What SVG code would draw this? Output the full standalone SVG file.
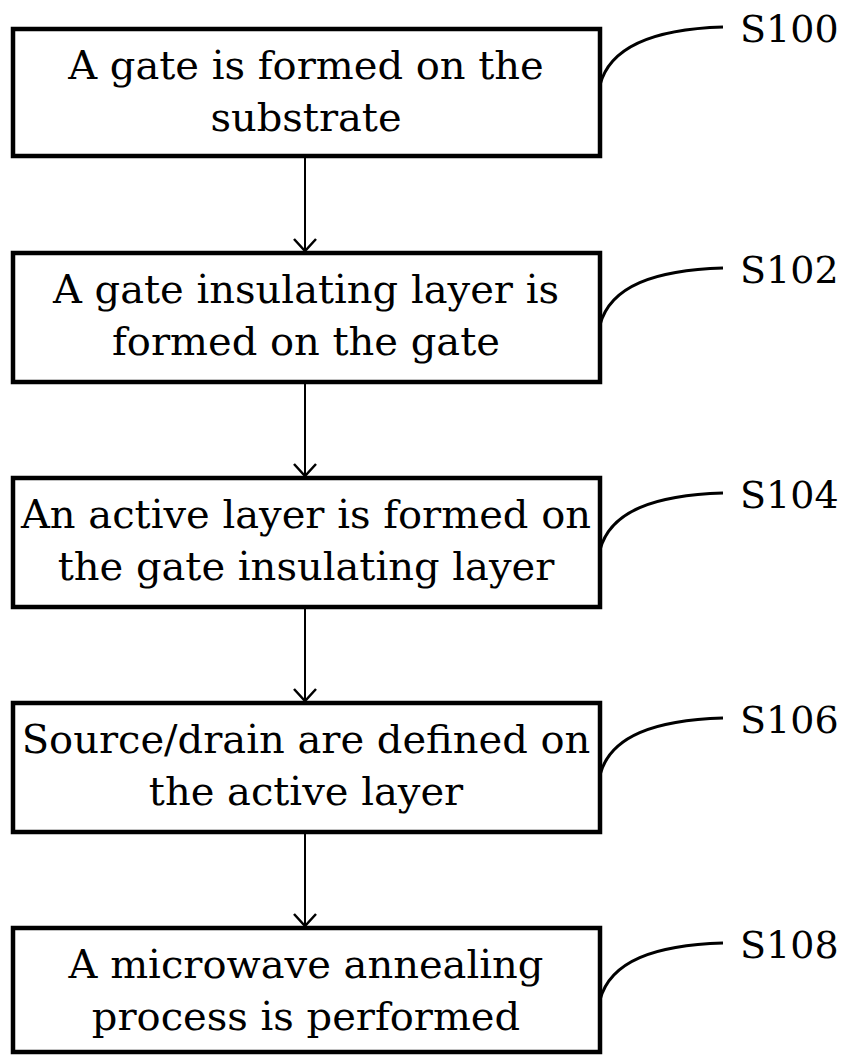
<svg xmlns="http://www.w3.org/2000/svg" width="849" height="1055" viewBox="0 0 849 1055">
  <defs>
    <style>
      .box { fill: #fff; stroke: #000; stroke-width: 4.5; }
      .txt { font-family: "DejaVu Serif", "Liberation Serif", serif; font-size: 40px; fill: #000; text-anchor: middle; }
      .lbl { font-family: "DejaVu Serif", "Liberation Serif", serif; font-size: 38px; fill: #000; }
      .flow { stroke: #000; stroke-width: 2; fill: none; }
      .lead { stroke: #000; stroke-width: 3; fill: none; }
    </style>
    <!-- open V arrowhead, drawn along +x so orient="auto" points it down the line -->
    <marker id="vee" viewBox="0 0 14 24" refX="13" refY="12" markerWidth="14" markerHeight="24" markerUnits="userSpaceOnUse" orient="auto">
      <path d="M1,1 L13,12 L1,23" fill="none" stroke="#000" stroke-width="2.5"/>
    </marker>
  </defs>

  <!-- process steps -->
  <g id="s100">
    <rect class="box" x="13" y="29" width="587" height="127"/>
    <text class="txt" x="306" y="79">A gate is formed on the</text>
    <text class="txt" x="306" y="131">substrate</text>
    <path class="lead" d="M600,85 C610,46 655,29 723,27"/>
    <text class="lbl" x="740" y="42">S100</text>
  </g>

  <g id="s102">
    <rect class="box" x="13" y="253" width="587" height="129"/>
    <text class="txt" x="306" y="303">A gate insulating layer is</text>
    <text class="txt" x="306" y="355">formed on the gate</text>
    <path class="lead" d="M600,325 C610,286 655,270 723,268"/>
    <text class="lbl" x="740" y="283">S102</text>
  </g>

  <g id="s104">
    <rect class="box" x="13" y="478" width="587" height="129"/>
    <text class="txt" x="306" y="528">An active layer is formed on</text>
    <text class="txt" x="306" y="580">the gate insulating layer</text>
    <path class="lead" d="M600,550 C610,511 655,495 723,493"/>
    <text class="lbl" x="740" y="508">S104</text>
  </g>

  <g id="s106">
    <rect class="box" x="13" y="703" width="587" height="129"/>
    <text class="txt" x="306" y="753">Source/drain are defined on</text>
    <text class="txt" x="306" y="805">the active layer</text>
    <path class="lead" d="M600,775 C610,736 655,720 723,718"/>
    <text class="lbl" x="740" y="733">S106</text>
  </g>

  <g id="s108">
    <rect class="box" x="13" y="928" width="587" height="124"/>
    <text class="txt" x="306" y="978">A microwave annealing</text>
    <text class="txt" x="306" y="1030">process is performed</text>
    <path class="lead" d="M600,1000 C610,961 655,945 723,943"/>
    <text class="lbl" x="740" y="958">S108</text>
  </g>

  <!-- connectors -->
  <g id="connectors">
    <line class="flow" x1="305" y1="158" x2="305" y2="251" marker-end="url(#vee)"/>
    <line class="flow" x1="305" y1="384" x2="305" y2="476" marker-end="url(#vee)"/>
    <line class="flow" x1="305" y1="609" x2="305" y2="701" marker-end="url(#vee)"/>
    <line class="flow" x1="305" y1="834" x2="305" y2="926" marker-end="url(#vee)"/>
  </g>
</svg>
